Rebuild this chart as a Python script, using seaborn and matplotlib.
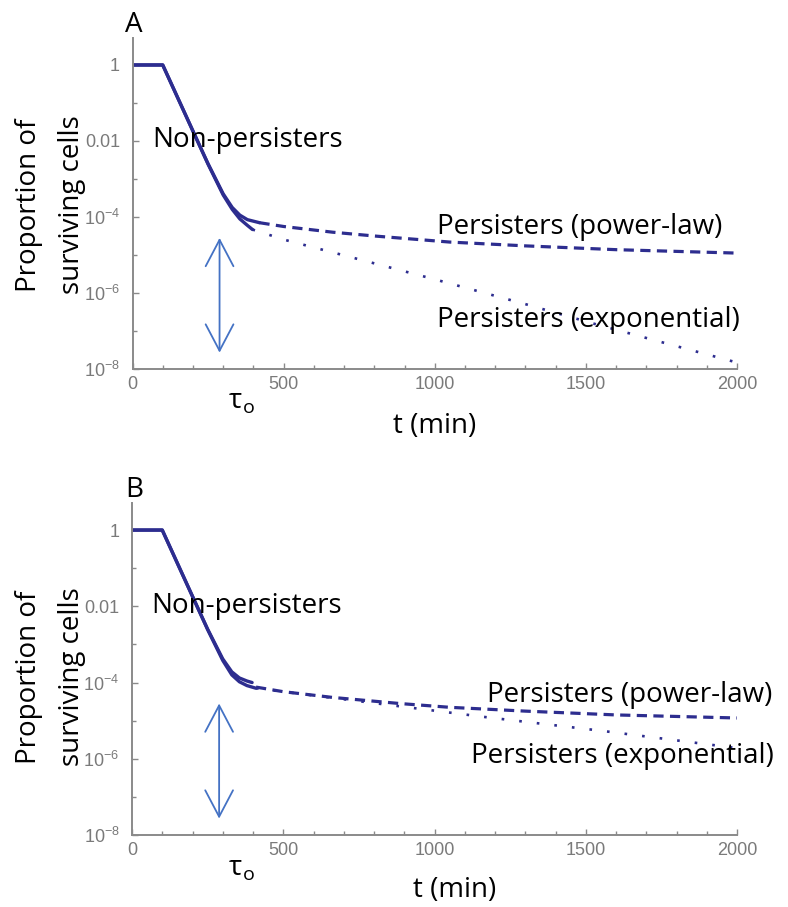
import numpy as np
import matplotlib
matplotlib.use("Agg")
import matplotlib.pyplot as plt
import seaborn as sns
from matplotlib.ticker import FixedLocator, FixedFormatter

# ---------------- data (log10 of proportion of surviving cells) ----------------
# Panel A
tA_np_pl = [0, 100, 150, 200, 250, 300, 330, 355, 380, 420]
logA_np_pl = [0, 0, -0.87, -1.74, -2.60, -3.39, -3.75, -3.95, -4.07, -4.15]
tA_np_ex = [0, 100, 150, 200, 250, 300, 330, 355, 380, 397]
logA_np_ex = [0, 0, -0.87, -1.74, -2.61, -3.42, -3.80, -4.05, -4.22, -4.33]
tA_pl = [420, 500, 662, 800, 1050, 1300, 1600, 2000]
logA_pl = [-4.15, -4.25, -4.40, -4.50, -4.66, -4.76, -4.86, -4.95]
tA_ex = [397, 503, 719, 995, 1303, 1523, 1735, 2000]
logA_ex = [-4.33, -4.60, -5.05, -5.63, -6.30, -6.80, -7.26, -7.83]

# Panel B
tB_np_1 = [0, 100, 150, 200, 250, 300, 330, 355, 380, 397]
logB_np_1 = [0, 0, -0.87, -1.74, -2.60, -3.38, -3.72, -3.88, -3.96, -4.00]
tB_np_2 = [0, 100, 150, 200, 250, 300, 330, 355, 380, 410]
logB_np_2 = [0, 0, -0.87, -1.74, -2.61, -3.42, -3.80, -3.98, -4.08, -4.15]
tB_pl = [410, 500, 662, 884, 1050, 1300, 1600, 2000]
logB_pl = [-4.12, -4.24, -4.39, -4.55, -4.65, -4.75, -4.85, -4.93]
tB_ex = [410, 1172, 1556, 2000]
logB_ex = [-4.15, -4.91, -5.27, -5.72]

# axis ticks
x_major = [0, 500, 1000, 1500, 2000]
x_minor = [100, 200, 300, 400, 600, 700, 800, 900, 1100, 1200, 1300, 1400,
           1600, 1700, 1800, 1900]
y_major_exp = [-8, -6, -4, -2, 0]
y_major_labels = [r"$\mathregular{10^{-8}}$", r"$\mathregular{10^{-6}}$",
                  r"$\mathregular{10^{-4}}$", "0.01", "1"]
y_minor_exp = [-7, -5, -3, -1]

# annotation positions (t, log10)
arrow_t = 288
arrow_log = (-4.55, -7.57)

# ---------------- style ----------------
sns.set_style("white")
plt.rcParams["font.family"] = ["Open Sans", "DejaVu Sans"]
plt.rcParams["text.color"] = "black"
plt.rcParams["mathtext.fontset"] = "custom"
plt.rcParams["mathtext.rm"] = "Liberation Sans"

LINE = "#2d2d8f"
ARROW = "#4472c4"
AXC = "#8a8a8a"
TICKC = "#7a7a7a"
FS = 20

W, H = 788, 907
fig = plt.figure(figsize=(W / 100, H / 100), dpi=100)


def fx(px):
    return px / W


def fy(py):
    return 1 - py / H


axA = fig.add_axes([fx(132.5), fy(369), fx(737) - fx(132.5), (369 - 38) / H])
axB = fig.add_axes([fx(132), fy(835), fx(737) - fx(132), (835 - 503) / H])

dash_pl = (0, (3.2, 2.0))
dot_ex = (0, (1.0, 5.7))


def draw(ax, solid1, solid2, pl, ex):
    for t, lg in (solid1, solid2):
        sns.lineplot(x=t, y=10 ** np.array(lg), ax=ax, color=LINE, lw=2.4,
                     linestyle="-", sort=False)
    t, lg = pl
    sns.lineplot(x=t, y=10 ** np.array(lg), ax=ax, color=LINE, lw=2.3,
                 linestyle=dash_pl, sort=False)
    t, lg = ex
    sns.lineplot(x=t, y=10 ** np.array(lg), ax=ax, color=LINE, lw=1.9,
                 linestyle=dot_ex, sort=False)

    ax.set_yscale("log")
    ax.set_xlim(0, 2000)
    ax.set_ylim(1e-8, 10 ** 0.71)
    ax.xaxis.set_major_locator(FixedLocator(x_major))
    ax.xaxis.set_minor_locator(FixedLocator(x_minor))
    ax.xaxis.set_major_formatter(FixedFormatter([str(v) for v in x_major]))
    ax.yaxis.set_major_locator(FixedLocator([10.0 ** e for e in y_major_exp]))
    ax.yaxis.set_major_formatter(FixedFormatter(y_major_labels))
    ax.yaxis.set_minor_locator(FixedLocator([10.0 ** e for e in y_minor_exp]))
    ax.yaxis.set_minor_formatter(FixedFormatter([""] * len(y_minor_exp)))
    for s in ("top", "right"):
        ax.spines[s].set_visible(False)
    for s in ("left", "bottom"):
        ax.spines[s].set_color(AXC)
        ax.spines[s].set_linewidth(1.4)
    ax.tick_params(which="both", direction="in", color=AXC, width=1.0,
                   labelcolor=TICKC, labelsize=13, bottom=True, left=True,
                   top=False, right=False)
    ax.tick_params(which="major", length=4.5)
    ax.tick_params(which="minor", length=3)
    ax.tick_params(axis="x", pad=5)
    ax.tick_params(axis="y", pad=9)
    for lab in ax.get_xticklabels() + ax.get_yticklabels():
        lab.set_family("Liberation Sans")
    ax.set_xlabel("")
    ax.set_ylabel("")
    ax.annotate("", xy=(arrow_t, 10 ** arrow_log[0]),
                xytext=(arrow_t, 10 ** arrow_log[1]),
                arrowprops=dict(arrowstyle="<->,head_length=1.9,head_width=1.0",
                                color=ARROW, lw=1.3, shrinkA=0, shrinkB=0,
                                mutation_scale=10))


draw(axA, (tA_np_pl, logA_np_pl), (tA_np_ex, logA_np_ex), (tA_pl, logA_pl),
     (tA_ex, logA_ex))
draw(axB, (tB_np_1, logB_np_1), (tB_np_2, logB_np_2), (tB_pl, logB_pl),
     (tB_ex, logB_ex))

# curve labels
axA.text(64, 10 ** -2.16, "Non-persisters", fontsize=FS, va="baseline")
axA.text(1007, 10 ** -4.45, "Persisters (power-law)", fontsize=FS, va="baseline")
axA.text(1007, 10 ** -6.9, "Persisters (exponential)", fontsize=FS, va="baseline")
axB.text(64, 10 ** -2.18, "Non-persisters", fontsize=FS, va="baseline")
axB.text(1172, 10 ** -4.51, "Persisters (power-law)", fontsize=FS, va="baseline")
axB.text(1122, 10 ** -6.12, "Persisters (exponential)", fontsize=FS, va="baseline")

# panel letters, axis labels
for (yl, ytau, yo, ytl, xtl, ylab, letter) in (
        (32, 408, 413, 433, 435, 205, "A"),
        (497, 875, 880, 897, 455, 677, "B")):
    fig.text(fx(134), fy(yl), letter, fontsize=FS, ha="center", va="baseline")
    fig.text(fx(235), fy(ytau), "τ", fontsize=FS, ha="center", va="baseline",
             family=["Open Sans", "DejaVu Sans"])
    fig.text(fx(243), fy(yo), "o", fontsize=14, ha="left", va="baseline")
    fig.text(fx(xtl), fy(ytl), "t (min)", fontsize=FS, ha="center",
             va="baseline")
    fig.text(fx(29), fy(ylab), "Proportion of", fontsize=FS, rotation=90,
             ha="center", va="center")
    fig.text(fx(72), fy(ylab), "surviving cells", fontsize=FS, rotation=90,
             ha="center", va="center")

fig.savefig("out.png", dpi=100)
